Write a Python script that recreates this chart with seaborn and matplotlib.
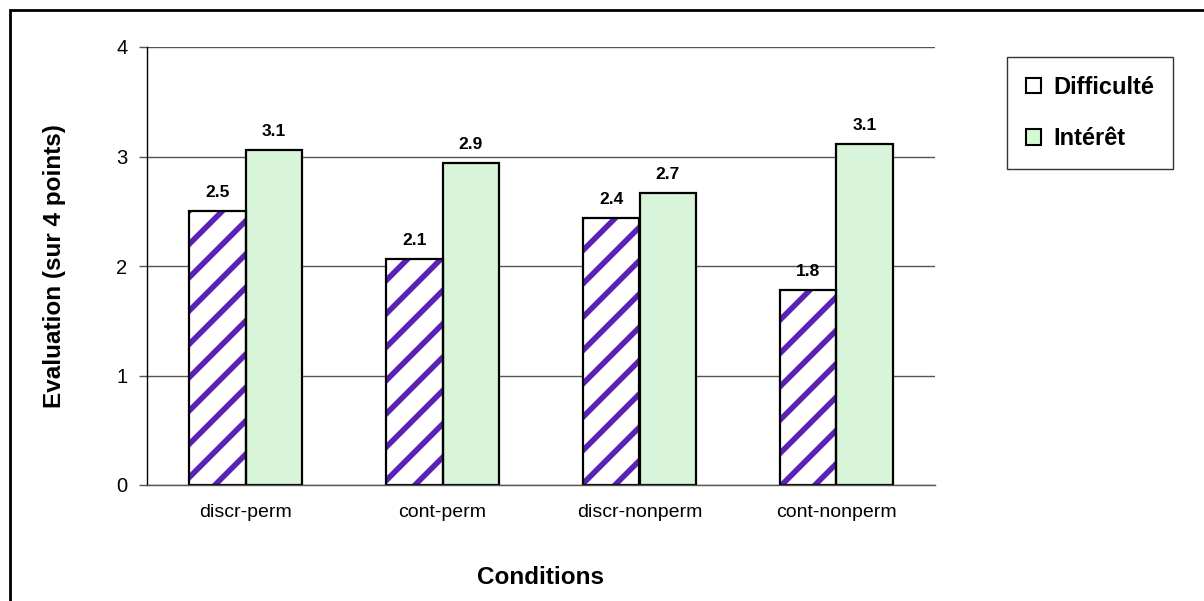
import matplotlib
matplotlib.use('agg')
import pandas as pd
import seaborn as sns
import matplotlib.pyplot as plt
from matplotlib.patches import Patch, Rectangle

X = "Conditions"
Y = "Evaluation (sur 4 points)"
TYPE = "type"

CONDITIONS = ["discr-perm", "cont-perm", "discr-nonperm", "cont-nonperm"]
SERIES = ["Difficulté", "Intérêt"]
DIFFICULTE = [2.50, 2.06, 2.44, 1.78]
INTERET = [3.06, 2.94, 2.67, 3.11]

PURPLE = "#5B21B5"
GREEN = "#D4FAD4"

W, H = 1204, 601


def create_data():
	frames = []
	for name, vals in zip(SERIES, [DIFFICULTE, INTERET]):
		frames.append(pd.DataFrame({X: CONDITIONS, Y: vals, TYPE: name}))
	return pd.concat(frames, ignore_index=True)


def main(output):
	df = create_data()

	sns.set_style("white")
	plt.rcParams['font.family'] = ['Liberation Sans', 'DejaVu Sans']
	plt.rcParams['hatch.linewidth'] = 4.0
	plt.rcParams['text.color'] = 'black'
	plt.rcParams['axes.labelcolor'] = 'black'

	fig = plt.figure(figsize=(W / 100, H / 100), dpi=100)
	ax = fig.add_axes([147 / W, 1 - 485 / H, (935 - 147) / W, (485 - 47) / H])

	sns.barplot(x=X, y=Y, hue=TYPE, data=df, ax=ax, hue_order=SERIES,
				order=CONDITIONS, palette=["white", GREEN], width=0.57,
				edgecolor="black", linewidth=1.6, gap=0, legend=False)

	# pattern on the first series, then a black outline on top
	for p in ax.containers[0]:
		p.set_edgecolor(PURPLE)
		p.set_hatch("/")
		p.set_linewidth(0)
		ax.add_patch(Rectangle(p.get_xy(), p.get_width(), p.get_height(),
							   fill=False, ec="black", lw=1.6, zorder=p.get_zorder() + 0.1))

	for c in ax.containers:
		ax.bar_label(c, fmt="%.1f", padding=8, fontsize=12.5, fontweight="bold")

	ax.set_ylim(0, 4)
	ax.set_xlim(-0.5, 3.5)
	ax.set_yticks([0, 1, 2, 3, 4])
	ax.set_axisbelow(True)
	ax.yaxis.grid(True, color="#555555", linewidth=1.0)
	ax.xaxis.grid(False)

	for s in ["top", "right"]:
		ax.spines[s].set_visible(False)
	ax.spines["left"].set_color("black")
	ax.spines["left"].set_linewidth(1.0)
	ax.spines["bottom"].set_color("#555555")
	ax.spines["bottom"].set_linewidth(1.0)

	ax.set_xticks([-0.5, 0.5, 1.5, 2.5, 3.5], minor=True)
	ax.tick_params(axis="x", which="major", length=0, labelsize=14, pad=14, labelcolor="black")
	ax.tick_params(axis="x", which="minor", length=6, color="#555555", width=1, direction="out")
	ax.tick_params(axis="y", length=6, color="#555555", width=1, labelsize=14.5, pad=8,
				   left=True, labelcolor="black")

	ax.set_xlabel(X, fontsize=17.5, fontweight="bold", labelpad=32)
	ax.set_ylabel(Y, fontsize=17.5, fontweight="bold", labelpad=36)

	handles = [Patch(facecolor="white", edgecolor="black", lw=1.5),
			   Patch(facecolor=GREEN, edgecolor="black", lw=1.5)]
	leg = fig.legend(handles, SERIES, loc="upper left",
					 bbox_to_anchor=(1007 / W, 1 - 57 / H), frameon=True, fancybox=False,
					 handlelength=0.65, handleheight=0.65, handletextpad=0.5,
					 labelspacing=1.2, borderpad=0.8, borderaxespad=0,
					 prop={"size": 17, "weight": "bold"})
	leg.get_frame().set_edgecolor("black")
	leg.get_frame().set_linewidth(1.0)

	# outer frame of the chart area (open to the right and bottom)
	fig.patches.append(Rectangle((10 / W, -0.2), 1.2, 1.2 - 10 / H, transform=fig.transFigure,
								 fill=False, ec="black", lw=2, figure=fig))

	fig.savefig(output, dpi=100)


if __name__ == "__main__":
	main("out.png")
